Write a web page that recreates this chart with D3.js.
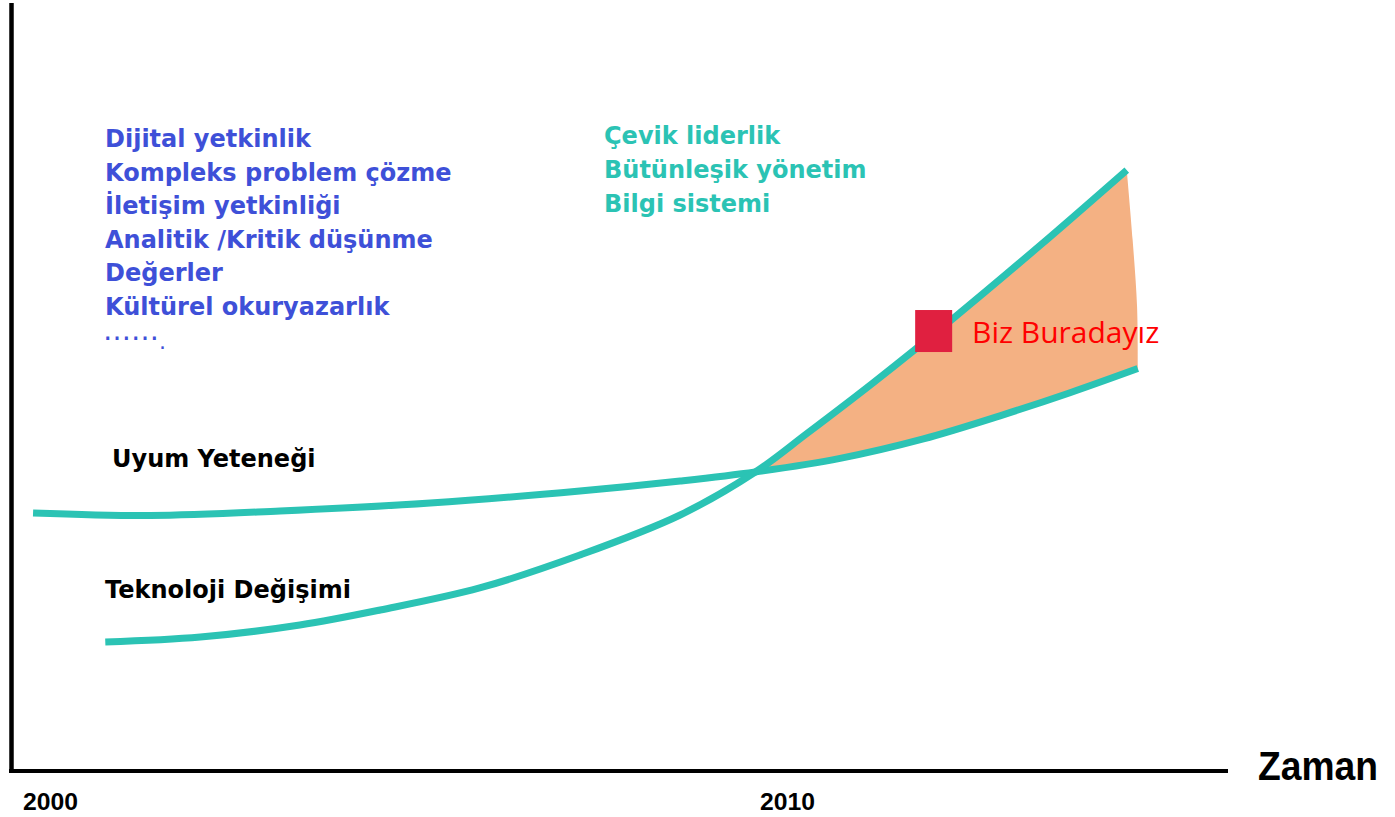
<!DOCTYPE html>
<html>
<head>
<meta charset="utf-8">
<script src="https://cdn.jsdelivr.net/npm/d3@7"></script>
<style>
  html, body { margin: 0; padding: 0; background: #ffffff; }
  svg { display: block; }
</style>
</head>
<body>
<svg id="chart" width="1395" height="817"></svg>
<script>
// ---------------- data ----------------
const uyumYears  = [1999.77, 2001.36, 2003.12, 2005.16, 2007.19, 2008.55, 2009.57, 2010.72, 2011.85, 2012.89, 2013.84, 2014.76];
const uyumLevels = [33.38, 33.05, 33.64, 34.68, 36.23, 37.53, 38.70, 40.47, 43.00, 46.00, 49.00, 52.14];

const teknoYears  = [2000.75, 2002.04, 2003.39, 2004.48, 2005.83, 2007.19, 2008.55, 2009.57, 2010.27, 2011.17, 2012.25, 2013.43, 2014.61];
const teknoLevels = [16.62, 17.27, 18.83, 20.78, 23.64, 27.92, 33.12, 38.70, 43.70, 50.30, 58.61, 68.10, 77.92];

const gapEdgeYears  = [2014.61, 2014.69, 2014.75, 2014.76];
const gapEdgeLevels = [77.92, 68.83, 60.13, 52.14];

const crossingIndexUyum = 6;
const crossingIndexTekno = 7;

const markerYear = 2011.99, markerLevel = 57.01;

const tickYears = [2000, 2010];
const blueSkills = ["Dijital yetkinlik", "Kompleks problem çözme", "İletişim yetkinliği", "Analitik /Kritik düşünme", "Değerler", "Kültürel okuryazarlık"];
const blueEllipsis = ["……", "."];
const tealSkills = ["Çevik liderlik", "Bütünleşik yönetim", "Bilgi sistemi"];
const seriesLabels = ["Uyum Yeteneği", "Teknoloji Değişimi"];
const markerLabel = "Biz Buradayız";
const axisTitle = "Zaman";

// ---------------- setup ----------------
const svg = d3.select("#chart");
const x = d3.scaleLinear().domain([2000, 2010]).range([50, 787]);
const y = d3.scaleLinear().domain([0, 100]).range([770, 0]);

const teal = "#2BC3B4";
const orange = "#F4B183";
const blue = "#3E50D8";
const labelFont = "'DejaVu Sans', Verdana, sans-serif";

const uyum = uyumYears.map((d, i) => [d, uyumLevels[i]]);
const tekno = teknoYears.map((d, i) => [d, teknoLevels[i]]);
const edge = gapEdgeYears.map((d, i) => [d, gapEdgeLevels[i]]);

const lineCurve = d3.line().x(d => x(d[0])).y(d => y(d[1])).curve(d3.curveCatmullRom.alpha(0.5));

// ---------------- gap area ----------------
const teknoTail = tekno.slice(crossingIndexTekno);
const uyumTail = uyum.slice(crossingIndexUyum);
const techD = lineCurve(teknoTail);
const edgeD = lineCurve(edge).replace(/^M/, "L");
const uyumRevD = lineCurve(uyumTail.slice().reverse()).replace(/^M/, "L");
svg.append("path").attr("d", techD + edgeD + uyumRevD + "Z").attr("fill", orange).attr("stroke", "none");

// ---------------- curves ----------------
svg.append("path").attr("d", lineCurve(uyum)).attr("fill", "none")
  .attr("stroke", teal).attr("stroke-width", 7).attr("stroke-linecap", "butt");
svg.append("path").attr("d", lineCurve(tekno)).attr("fill", "none")
  .attr("stroke", teal).attr("stroke-width", 7).attr("stroke-linecap", "butt");

// ---------------- axes ----------------
svg.append("line").attr("x1", 11.5).attr("x2", 11.5).attr("y1", 3).attr("y2", 773)
  .attr("stroke", "#000").attr("stroke-width", 4.5);
svg.append("line").attr("x1", 9).attr("x2", 1228).attr("y1", 771).attr("y2", 771)
  .attr("stroke", "#000").attr("stroke-width", 4);

const xAxis = d3.axisBottom(x).tickValues(tickYears).tickFormat(d3.format("d")).tickSize(0).tickPadding(0);
const gx = svg.append("g").attr("transform", "translate(0,810)").call(xAxis);
gx.select(".domain").remove();
gx.selectAll("text")
  .attr("dy", 0).attr("y", 0)
  .attr("font-family", "'Liberation Sans Narrow', 'Liberation Sans', Arial, sans-serif")
  .attr("font-weight", "bold").attr("font-size", 24).attr("fill", "#000")
  .attr("textLength", 55).attr("lengthAdjust", "spacingAndGlyphs");

svg.append("text").attr("x", 1258).attr("y", 780)
  .attr("font-family", "'Liberation Sans Narrow', 'Liberation Sans', Arial, sans-serif")
  .attr("font-weight", "bold").attr("font-size", 41).attr("fill", "#000")
  .attr("textLength", 120).attr("lengthAdjust", "spacingAndGlyphs")
  .text(axisTitle);

// ---------------- marker ----------------
svg.append("rect")
  .attr("x", x(markerYear) - 18.5).attr("y", y(markerLevel) - 21)
  .attr("width", 37).attr("height", 42).attr("fill", "#E02040");
svg.append("text").attr("x", 972).attr("y", 343)
  .attr("font-family", "'Open Sans', sans-serif").attr("font-size", 30).attr("fill", "#FF0000")
  .text(markerLabel);

// ---------------- skill lists ----------------
svg.append("g").selectAll("text").data(blueSkills).join("text")
  .attr("x", 105).attr("y", (d, i) => 147 + i * 33.6)
  .attr("font-family", labelFont).attr("font-weight", "bold").attr("font-size", 24).attr("fill", blue)
  .text(d => d);
const ell = svg.append("text").attr("x", 103).attr("y", 147 + 6 * 33.6)
  .attr("font-family", labelFont).attr("font-size", 28).attr("fill", blue);
ell.append("tspan").attr("dy", -9).text(blueEllipsis[0]);
ell.append("tspan").attr("dy", 9).attr("font-size", 22).text(blueEllipsis[1]);

svg.append("g").selectAll("text").data(tealSkills).join("text")
  .attr("x", 604).attr("y", (d, i) => 144 + i * 34)
  .attr("font-family", labelFont).attr("font-weight", "bold").attr("font-size", 24).attr("fill", teal)
  .text(d => d);

// ---------------- series labels ----------------
svg.append("text").attr("x", 112).attr("y", 467)
  .attr("font-family", labelFont).attr("font-weight", "bold").attr("font-size", 24).attr("fill", "#000")
  .text(seriesLabels[0]);
svg.append("text").attr("x", 105).attr("y", 598)
  .attr("font-family", labelFont).attr("font-weight", "bold").attr("font-size", 24).attr("fill", "#000")
  .text(seriesLabels[1]);
</script>
</body>
</html>
